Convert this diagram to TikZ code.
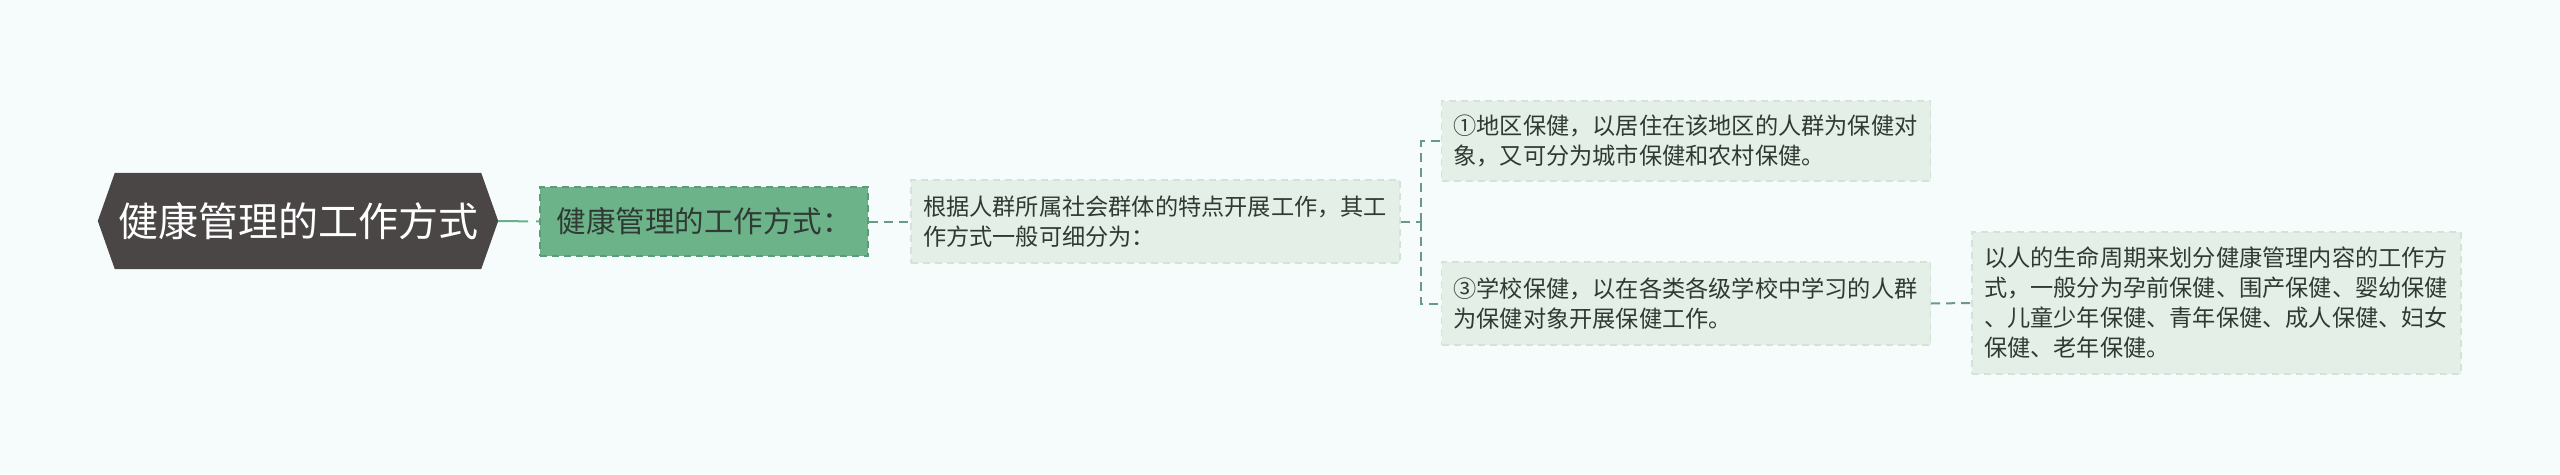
\documentclass[tikz,border=0pt]{standalone}
\usepackage{fontspec}
\newfontfamily\cjk{Noto Sans CJK SC}
\usetikzlibrary{calc}
\definecolor{bgc}{HTML}{F6FCFC}
\definecolor{rootc}{HTML}{4A4646}
\definecolor{greenc}{HTML}{6DB38A}
\definecolor{greenb}{HTML}{5A9C77}
\definecolor{lightc}{HTML}{E3EFE7}
\definecolor{lightb}{HTML}{D3E3D8}
\definecolor{txtc}{HTML}{2E3A33}
\definecolor{linec}{HTML}{6A9A84}
\definecolor{linerc}{HTML}{6BAE8A}
\tikzset{
  rootbox/.style={inner sep=0pt, minimum width=366pt, minimum height=96pt, text=white,
    font=\cjk\fontsize{40}{48}\selectfont},
  greenbox/.style={fill=greenc, draw=greenb, dashed, dash pattern=on 7pt off 5pt, line width=1.5pt,
    minimum width=328pt, minimum height=69pt, inner sep=0pt, text=txtc,
    font=\cjk\fontsize{29.5}{34}\selectfont},
  lightbox/.style={fill=lightc, draw=lightb, dash pattern=on 7pt off 5pt, line width=1.2pt,
    minimum width=489pt, inner xsep=12pt, inner ysep=0pt, align=left, text width=465pt, text=txtc,
    font=\cjk\fontsize{23.2}{30}\selectfont},
  conn/.style={draw=linec, line width=2pt, dash pattern=on 9pt off 6pt},
}
\begin{document}
\begin{tikzpicture}[x=1pt,y=-1pt]
\useasboundingbox (0,0) rectangle (2560,474);
\fill[bgc] (0,0) rectangle (2560,474);

\node[rootbox] (root) at (298,221) {健康管理的工作方式};
\fill[rootc] ($(root.west)+(-17,0)$) -- (root.north west) -- (root.north east) --
  ($(root.east)+(17,0)$) -- (root.south east) -- (root.south west) -- cycle;
\node[rootbox] at (root) {健康管理的工作方式};

\node[greenbox] (g) at (704,221.5) {健康管理的工作方式：};

\node[lightbox, minimum height=83pt] (n3) at (1155.5,221.5)
  {根据人群所属社会群体的特点开展工作，其工\\作方式一般可细分为：};

\node[lightbox, minimum height=80pt] (n4) at (1686,141)
  {①地区保健，以居住在该地区的人群为保健对\\象，又可分为城市保健和农村保健。};

\node[lightbox, minimum height=83pt] (n5) at (1686,303.5)
  {③学校保健，以在各类各级学校中学习的人群\\为保健对象开展保健工作。};

\node[lightbox, minimum height=142pt] (n6) at (2216.5,303)
  {以人的生命周期来划分健康管理内容的工作方\\式，一般分为孕前保健、围产保健、婴幼保健\\、儿童少年保健、青年保健、成人保健、妇女\\保健、老年保健。};

\coordinate (br) at (1421,221.5);

\draw[conn, draw=linerc, dash pattern=on 30pt off 8pt] (root.east) ++(17,0) -- (g.west);
\draw[conn] (g.east) -- (n3.west);
\draw[conn] (n3.east) -- (br);
\draw[conn] (br) |- (n4.west);
\draw[conn] (br) |- (n5.west);
\draw[conn] (n5.east) -- (n6.west);
\end{tikzpicture}
\end{document}
